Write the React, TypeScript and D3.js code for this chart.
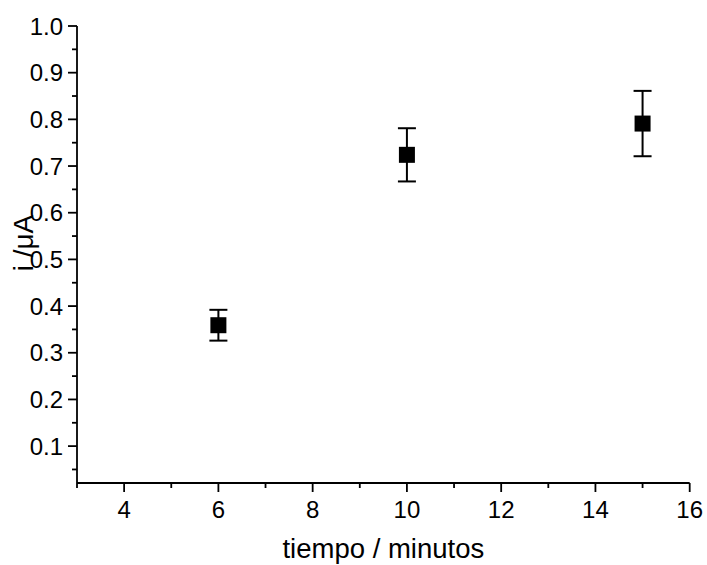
import React from 'react';
import * as d3 from 'd3';

// data
const tiempo = [6, 10, 15];
const corriente = [0.359, 0.724, 0.791];
const errores = [0.033, 0.057, 0.07];

const xMajor = [4, 6, 8, 10, 12, 14, 16];
const xMinor = [3, 5, 7, 9, 11, 13, 15];
const yMajor = [0.1, 0.2, 0.3, 0.4, 0.5, 0.6, 0.7, 0.8, 0.9, 1.0];
const yMinor = [0.05, 0.15, 0.25, 0.35, 0.45, 0.55, 0.65, 0.75, 0.85, 0.95];

const width = 707;
const height = 565;
const font = 'Arial, "Liberation Sans", sans-serif';

const App = () => {
  const x = d3.scaleLinear().domain([3, 16]).range([77, 689.7]);
  const y = d3.scaleLinear().domain([0.021, 1.0]).range([483, 26]);

  const x0 = x.range()[0];
  const y0 = y.range()[0];
  const yTop = y.range()[1];
  const xRight = x.range()[1];

  const points = tiempo.map((t, i) => ({ t, v: corriente[i], e: errores[i] }));

  return (
    <svg width={width} height={height} style={{ position: 'absolute', left: 0, top: 0, background: '#fff' }}>
      <g stroke="#000" strokeWidth={1.8} fill="none">
        {/* axes */}
        <line x1={x0} x2={x0} y1={yTop} y2={y0} />
        <line x1={x0} x2={xRight} y1={y0} y2={y0} />
        {yMajor.map(d => (
          <line key={'ym' + d} x1={x0 - 9} x2={x0} y1={y(d)} y2={y(d)} />
        ))}
        {yMinor.map(d => (
          <line key={'yn' + d} x1={x0 - 5} x2={x0} y1={y(d)} y2={y(d)} />
        ))}
        {xMajor.map(d => (
          <line key={'xm' + d} x1={x(d)} x2={x(d)} y1={y0} y2={y0 + 9} />
        ))}
        {xMinor.map(d => (
          <line key={'xn' + d} x1={x(d)} x2={x(d)} y1={y0} y2={y0 + 5} />
        ))}
      </g>

      <g fontFamily={font} fontSize={24} fill="#000">
        {yMajor.map(d => (
          <text key={'yl' + d} x={x0 - 14} y={y(d)} dy="0.36em" textAnchor="end">
            {d.toFixed(1)}
          </text>
        ))}
        {xMajor.map(d => (
          <text key={'xl' + d} x={x(d)} y={518} textAnchor="middle">
            {d}
          </text>
        ))}
      </g>

      <text x={(x0 + xRight) / 2} y={558} textAnchor="middle" fontFamily={font} fontSize={27.5}>
        tiempo / minutos
      </text>
      <text
        transform={`translate(33,${243}) rotate(-90)`}
        textAnchor="middle"
        fontFamily={font}
        fontSize={28}
      >
        i /μA
      </text>

      {/* error bars and markers */}
      <g stroke="#000" strokeWidth={2}>
        {points.map(p => (
          <g key={'e' + p.t}>
            <line x1={x(p.t)} x2={x(p.t)} y1={y(p.v + p.e)} y2={y(p.v - p.e)} />
            <line x1={x(p.t) - 9} x2={x(p.t) + 9} y1={y(p.v + p.e)} y2={y(p.v + p.e)} />
            <line x1={x(p.t) - 9} x2={x(p.t) + 9} y1={y(p.v - p.e)} y2={y(p.v - p.e)} />
          </g>
        ))}
      </g>
      {points.map(p => (
        <rect key={'m' + p.t} x={x(p.t) - 8} y={y(p.v) - 8} width={16} height={16} fill="#000" />
      ))}
    </svg>
  );
};

export default App;
